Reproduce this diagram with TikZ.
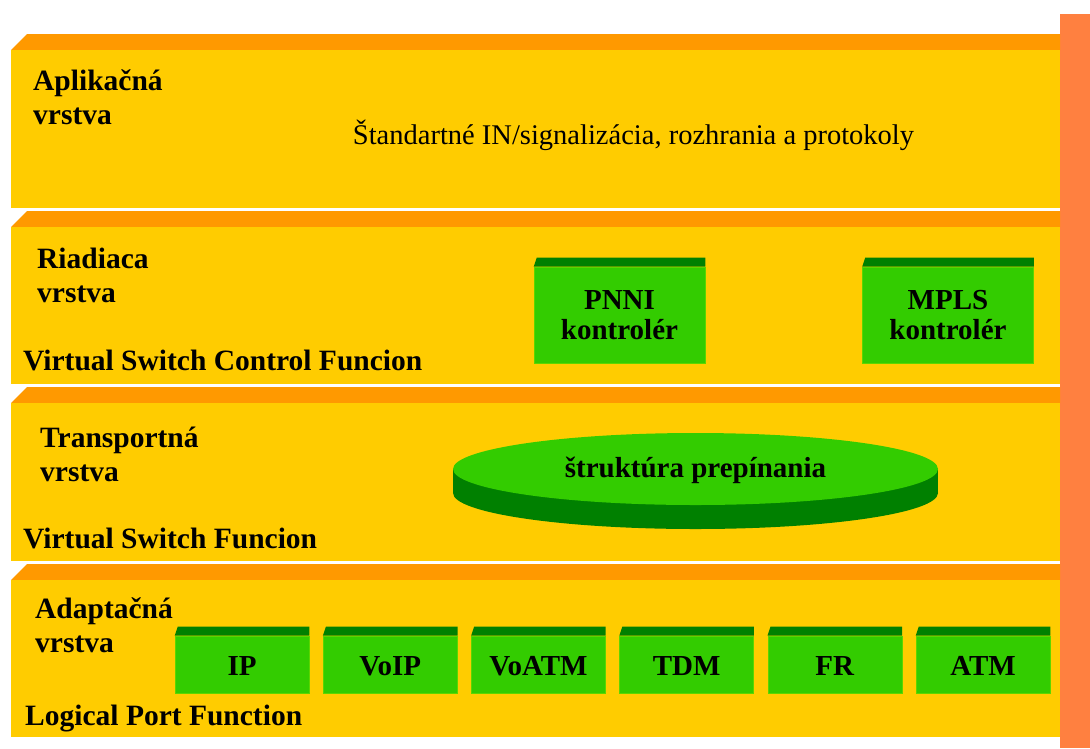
\documentclass[tikz,border=0pt]{standalone}
\usepackage{fontspec}
\setmainfont{Liberation Serif}
\usetikzlibrary{shapes.geometric}
\definecolor{frontc}{HTML}{FFCC00}
\definecolor{topc}{HTML}{FF9900}
\definecolor{barc}{HTML}{FF8040}
\definecolor{grn}{HTML}{33CC00}
\definecolor{dgrn}{HTML}{008000}
\begin{document}
\begin{tikzpicture}[x=1pt,y=-1pt,
  lbl/.style={font=\fontsize{29.5}{34}\selectfont\bfseries, inner sep=0pt, anchor=base west, align=left},
  gbox/.style={fill=grn, draw=grn!80!yellow, line width=0.6pt, inner sep=0pt, align=center,
    font=\fontsize{29}{30}\selectfont\bfseries},
  portbox/.style={gbox, minimum width=134pt, minimum height=57pt, text height=21pt, text depth=0pt},
  ctrlbox/.style={gbox, minimum width=171pt, minimum height=96pt},
  fabric/.style={ellipse, fill=grn, minimum width=485pt, minimum height=72pt, inner sep=0pt,
    text height=16pt, text depth=0pt, font=\fontsize{29}{30}\selectfont\bfseries}
]
\useasboundingbox (0,0) rectangle (1090,748);
\fill[white] (0,0) rectangle (1090,748);
% right bar
\fill[barc] (1060,14) rectangle (1090,748);
% layers
\foreach \t/\b in {34/208, 211/384, 387/561, 564/737}{
  \fill[topc] (11,\t+16) -- (27,\t) -- (1060,\t) -- (1060,\t+16) -- cycle;
  \fill[frontc] (11,\t+16) rectangle (1060,\b);
}
% layer 1 (node base = baseline of last line)
\node[lbl] (l1) at (33,124) {Aplikačná\\vrstva};
\node[font=\fontsize{28.5}{30}\selectfont, inner sep=0pt, anchor=base] (std) at (633.5,144)
  {Štandartné IN/signalizácia, rozhrania a protokoly};
% layer 2
\node[lbl] (l2) at (37,302) {Riadiaca\\vrstva};
\node[lbl] (f2) at (23,370) {Virtual Switch Control Funcion};
\node[ctrlbox] (pnni) at (619.5,315) {PNNI\\kontrolér};
\node[ctrlbox] (mpls) at (948,315) {MPLS\\kontrolér};
% layer 3
\node[lbl] (l3) at (40,481) {Transportná\\vrstva};
\node[lbl] (f3) at (23,548) {Virtual Switch Funcion};
\fill[dgrn] (695.5,493) ellipse [x radius=242.5, y radius=36];
\fill[dgrn] (453,469) rectangle (938,493);
\node[fabric] (fab) at (695.5,469) {štruktúra prepínania};
% layer 4
\node[lbl] (l4) at (35,652) {Adaptačná\\vrstva};
\node[lbl] (f4) at (25,725) {Logical Port Function};
\node[portbox] (ip)    at (242,664.5) {IP};
\node[portbox] (voip)  at (390.2,664.5) {VoIP};
\node[portbox] (voatm) at (538.4,664.5) {VoATM};
\node[portbox] (tdm)   at (686.6,664.5) {TDM};
\node[portbox] (fr)    at (834.8,664.5) {FR};
\node[portbox] (atm)   at (983,664.5) {ATM};
% dark top faces of the green boxes
\foreach \n in {pnni,mpls,ip,voip,voatm,tdm,fr,atm}{
  \fill[dgrn] (\n.north west) -- ([shift={(3,-9)}]\n.north west) -- ([shift={(0,-9)}]\n.north east) -- (\n.north east) -- cycle;
}
\end{tikzpicture}
\end{document}
